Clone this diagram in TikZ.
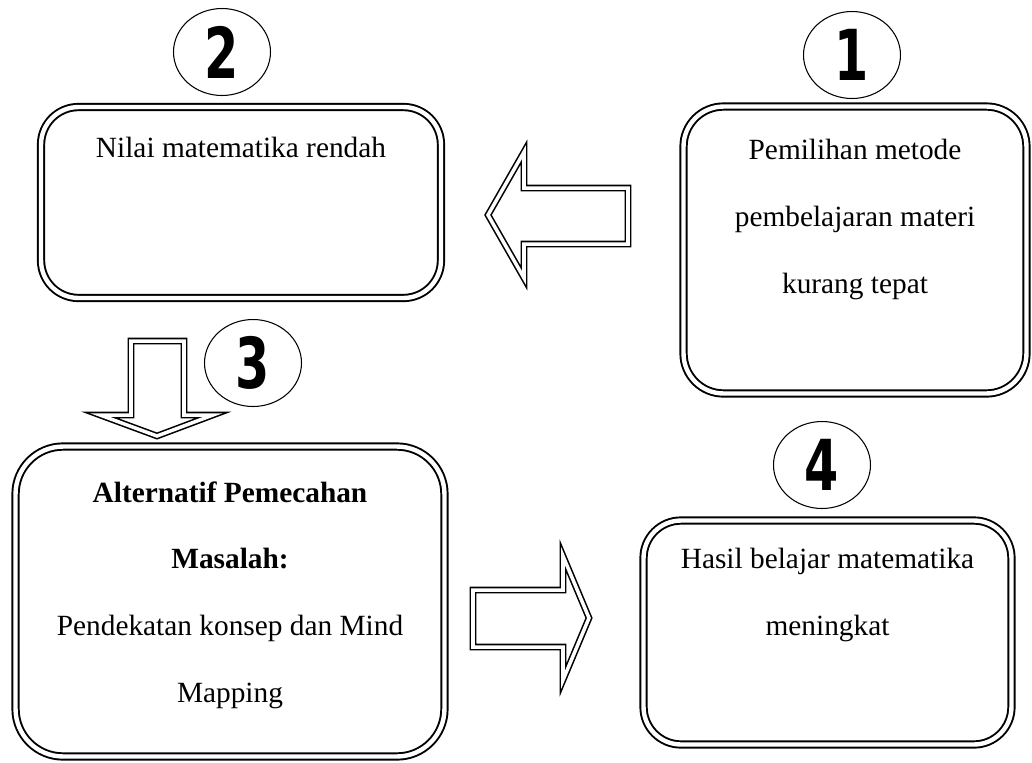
\documentclass[tikz,border=0pt]{standalone}
\usepackage{fontspec}
\setmainfont{Liberation Serif}
\newfontfamily\numfont{DejaVu Sans}
\usetikzlibrary{positioning,shapes.geometric}
\newcommand{\circnum}[1]{\scalebox{0.7}[1]{#1}}
\tikzset{
  box/.style={draw,double,line width=1.1pt,double distance=2.5pt,rounded corners=#1},
  box/.default=0.75cm,
  num/.style={ellipse,draw,line width=0.6pt,minimum width=1.94cm,minimum height=1.74cm,
    inner sep=0pt,font=\numfont\bfseries\fontsize{40}{40}\selectfont},
  txt/.style={align=center,inner sep=0pt,font=\fontsize{16.7}{38}\selectfont},
  blockarrow/.style={draw,double,line width=0.9pt,double distance=2pt}
}

\begin{document}
\begin{tikzpicture}[x=0.02cm,y=-0.02cm]
        \useasboundingbox (0,0) rectangle (1032,762);
        % boxes
        \node[box,minimum width=8.0cm,minimum height=3.82cm] (b2) at (241,202.5) {};
        \node[box=0.8cm,minimum width=6.86cm,minimum height=5.74cm] (b1) at (855,250) {};
        \node[box=0.95cm,minimum width=8.58cm,minimum height=6.2cm] (b3) at (230,601.5) {};
        \node[box,minimum width=7.36cm,minimum height=4.48cm] (b4) at (827.5,632.5) {};
        % texts
        \node[txt,below=0.61cm of b2.north] (t2) {Nilai matematika rendah};
        \node[txt,below=0.67cm of b1.north] (t1) {Pemilihan metode\\pembelajaran materi\\kurang tepat};
        \node[txt,below=0.71cm of b3.north] (t3) {\textbf{Alternatif Pemecahan}\\\textbf{Masalah:}\\Pendekatan konsep dan Mind\\Mapping};
        \node[txt,below=0.57cm of b4.north] (t4) {Hasil belajar matematika\\meningkat};
        % numbers
        \node[num] (n1) at (852,55) {\circnum{1}};
        \node[num] (n2) at (222,52) {\circnum{2}};
        \node[num] (n3) at (253,363) {\circnum{3}};
        \node[num] (n4) at (822,465) {\circnum{4}};
        % block arrows
        \draw[blockarrow] (488,215) -- (524,152) -- (524,188) -- (628,188)
            -- (628,244) -- (524,244) -- (524,278) -- cycle;
        \draw[blockarrow] (157,436) -- (100,415) -- (131,415) -- (131,341)
            -- (184,341) -- (184,415) -- (213,415) -- cycle;
        \draw[blockarrow] (589,618) -- (563,556) -- (563,590) -- (473,590)
            -- (473,647) -- (563,647) -- (563,680) -- cycle;
\end{tikzpicture}
\end{document}
